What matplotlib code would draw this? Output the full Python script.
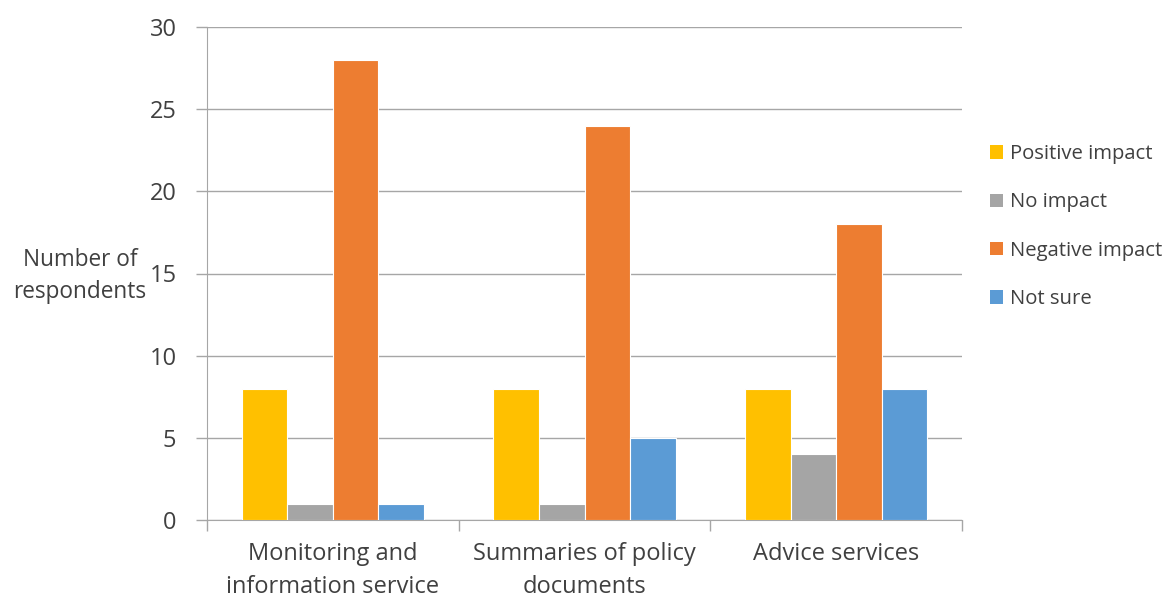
import matplotlib
matplotlib.use("Agg")
import matplotlib.pyplot as plt
import numpy as np
from matplotlib.patches import Patch

categories = ["Monitoring and\ninformation service", "Summaries of policy\ndocuments", "Advice services"]
series_names = ["Positive impact", "No impact", "Negative impact", "Not sure"]
positive = [8, 8, 8]
no_impact = [1, 1, 4]
negative = [28, 24, 18]
not_sure = [1, 5, 8]
colors = ["#FFC000", "#A5A5A5", "#ED7D31", "#5B9BD5"]
yticks = [0, 5, 10, 15, 20, 25, 30]

plt.rcParams['font.family'] = ['Open Sans', 'DejaVu Sans']
txt = "#404040"
fs = 17

fig = plt.figure(figsize=(11.74, 5.98), dpi=100)
ax = fig.add_axes([207/1174, 1-520/598, (962-207)/1174, (520-27)/598])

x = np.arange(len(categories))
w = 0.181
vals = [positive, no_impact, negative, not_sure]
for i, (v, c) in enumerate(zip(vals, colors)):
    ax.bar(x + (i - 1.5) * w, v, width=w, color=c, edgecolor="white", linewidth=0.8, zorder=3)

ax.set_xlim(-0.5, 2.5)
ax.set_ylim(0, 30)
ax.set_yticks(yticks)
ax.set_yticklabels([str(t) for t in yticks], fontsize=fs, color=txt)
ax.yaxis.grid(True, color="#A6A6A6", linewidth=1, zorder=0)
ax.tick_params(axis="y", length=8, color="#A6A6A6", width=1, pad=14)

ax.set_xticks(x)
ax.set_xticklabels(categories, fontsize=fs, color=txt, linespacing=1.5)
ax.set_xticks([-0.5, 0.5, 1.5, 2.5], minor=True)
ax.tick_params(axis="x", which="major", length=0, pad=16)
ax.tick_params(axis="x", which="minor", length=8, color="#A6A6A6", width=1)

for s in ["top", "right"]:
    ax.spines[s].set_visible(False)
ax.spines["left"].set_color("#A6A6A6")
ax.spines["bottom"].set_color("#A6A6A6")

fig.text(80/1174, 1-276/598, "Number of\nrespondents", fontsize=16.3, color=txt,
         ha="center", va="center", linespacing=1.45)

handles = [Patch(facecolor=c, edgecolor="none") for c in colors]
leg = fig.legend(handles, series_names, loc="upper left", bbox_to_anchor=(990/1174, 1-144/598),
                 frameon=False, fontsize=14.6, labelcolor=txt, handlelength=0.64, handleheight=0.64,
                 handletextpad=0.35, labelspacing=1.4, borderpad=0, borderaxespad=0)

fig.savefig("out.png", dpi=100)
